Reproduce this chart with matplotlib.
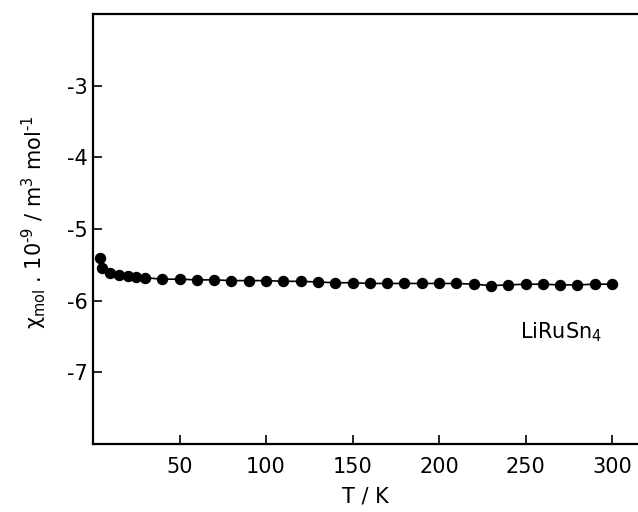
import numpy as np
import matplotlib
matplotlib.use('Agg')
import matplotlib.pyplot as plt

matplotlib.rcParams['font.family'] = 'DejaVu Sans'
matplotlib.rcParams['mathtext.fontset'] = 'custom'
matplotlib.rcParams['mathtext.rm'] = 'DejaVu Sans'
matplotlib.rcParams['mathtext.it'] = 'DejaVu Sans'

# temperature (K) and molar susceptibility (10^-9 m^3/mol)
temp = [4, 5, 10, 15, 20, 25, 30,
        40, 50, 60, 70, 80, 90, 100, 110, 120, 130, 140, 150, 160, 170,
        180, 190, 200, 210, 220, 230, 240, 250, 260, 270, 280, 290, 300]
chi = [-5.40, -5.54, -5.61, -5.64, -5.66, -5.67, -5.68,
       -5.70, -5.70, -5.71, -5.71, -5.72, -5.72, -5.72, -5.73, -5.73, -5.74,
       -5.75, -5.75, -5.76, -5.76, -5.76, -5.76, -5.76, -5.76, -5.77, -5.79,
       -5.78, -5.77, -5.77, -5.78, -5.78, -5.77, -5.77]

xticks = [50, 100, 150, 200, 250, 300]
yticks = [-7, -6, -5, -4, -3]

fig = plt.figure(figsize=(6.38, 5.12), dpi=100)
ax = fig.add_axes([0.1458, 0.1328, 0.8542, 0.8399])

ax.plot(temp, chi, color='black', lw=1.2, marker='o', ms=7.2,
        markerfacecolor='black', markeredgecolor='black')

ax.set_xlim(0, 315)
ax.set_ylim(-8, -2)
ax.set_xticks(xticks)
ax.set_yticks(yticks)
ax.set_yticklabels([str(v) for v in yticks])

ax.spines['right'].set_visible(False)
for side in ['left', 'bottom', 'top']:
    ax.spines[side].set_linewidth(1.6)

ax.tick_params(direction='in', length=6.5, width=1.2, labelsize=15)
ax.tick_params(axis='x', pad=9)
ax.tick_params(axis='y', pad=4)

ax.set_xlabel('T / K', fontsize=15)
ax.xaxis.set_label_coords(0.5, -0.098)
ax.set_ylabel(r'$\chi_{\mathrm{mol}}$ . 10$^{\text{-}9}$ / m$^{3}$ mol$^{\text{-}1}$',
              fontsize=15)
ax.yaxis.set_label_coords(-0.08, 0.515)

ax.text(247, -6.52, r'LiRuSn$_4$', fontsize=15, ha='left', va='baseline')

fig.savefig('out.png', dpi=100)
